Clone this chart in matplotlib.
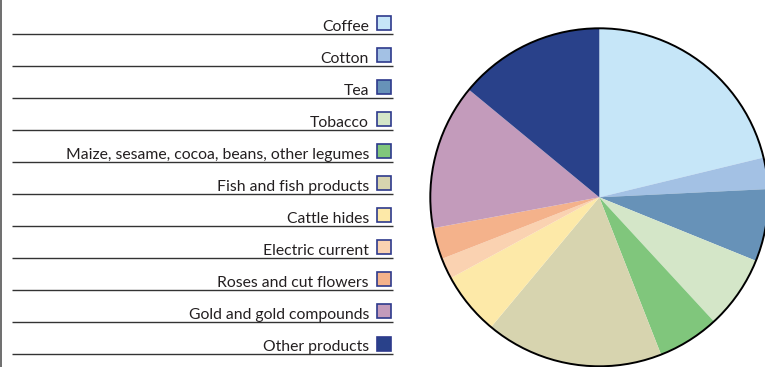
import matplotlib
matplotlib.use("Agg")
import matplotlib.pyplot as plt
from matplotlib.patches import Circle, Rectangle

# Export shares (%) by product
categories = [
    "Coffee", "Cotton", "Tea", "Tobacco",
    "Maize, sesame, cocoa, beans, other legumes",
    "Fish and fish products", "Cattle hides", "Electric current",
    "Roses and cut flowers", "Gold and gold compounds", "Other products",
]
shares = [21.2, 3.0, 6.9, 7.0, 5.9, 17.0, 6.0, 2.0, 3.0, 13.9, 14.0]
colors = [
    "#C6E6F8", "#A3C1E4", "#6792B8", "#D4E6C8", "#80C67C",
    "#D7D4AF", "#FDE9A8", "#FAD2B1", "#F4B28B", "#C39BBB", "#29418A",
]

W, H = 765, 367
fig = plt.figure(figsize=(W / 100, H / 100), dpi=100)
ax = fig.add_axes([0, 0, 1, 1])

# Pie, clockwise from 12 o'clock, with a single outer outline
cx, cy, r = 599.3, H - 197.3, 169
ax.pie(shares, colors=colors, startangle=90, counterclock=False,
       center=(cx, cy), radius=r, frame=True,
       wedgeprops=dict(linewidth=0))
ax.set_xlim(0, W)
ax.set_ylim(0, H)
ax.set_aspect("equal")
ax.axis("off")
ax.add_patch(Circle((cx, cy), r, fill=False, edgecolor="black", linewidth=1.4))

# Legend rows: label, swatch and an underline
row0, step = 33.7, 32.03
for i, (lab, col) in enumerate(zip(categories, colors)):
    ly = H - (row0 + step * i)
    ax.plot([12, 393.5], [ly, ly], color="#333333", linewidth=1.0,
            solid_capstyle="butt")
    ax.text(369, ly + 3.0, lab, ha="right", va="baseline",
            fontsize=11.3, family="Lato", color="#231F20")
    ax.add_patch(Rectangle((377.5, ly + 3.5), 14, 14, facecolor=col,
                           edgecolor="#2E3A8C", linewidth=1.2))

# Left frame rule
ax.plot([1.5, 1.5], [0, H], color="#555555", linewidth=1.2)

fig.savefig("out.png", dpi=100)
